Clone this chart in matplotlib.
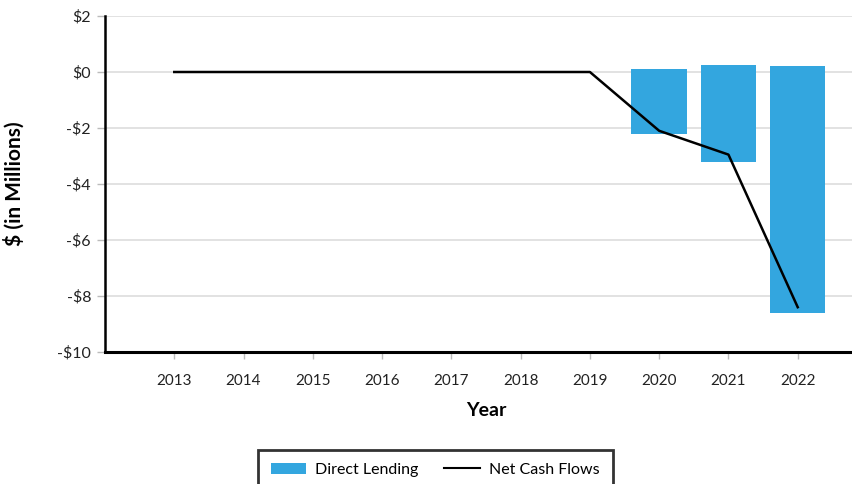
import matplotlib.pyplot as plt
from matplotlib.patches import Patch
from matplotlib.lines import Line2D

plt.rcParams['font.family'] = ['Lato', 'DejaVu Sans']

years = [2013, 2014, 2015, 2016, 2017, 2018, 2019, 2020, 2021, 2022]
bar_years = [2020, 2021, 2022]
distributions = [0.1, 0.25, 0.2]
contributions = [-2.2, -3.2, -8.6]
net_cash_flows = [0, 0, 0, 0, 0, 0, 0, -2.1, -2.95, -8.4]
y_ticks = [2, 0, -2, -4, -6, -8, -10]
y_labels = ['$2', '$0', '-$2', '-$4', '-$6', '-$8', '-$10']

blue = '#33a6df'

fig = plt.figure(figsize=(8.53, 4.84), dpi=100)
ax = fig.add_axes([105 / 853, 1 - 352 / 484, (867 - 105) / 853, (352 - 16) / 484])

ax.bar(bar_years, distributions, width=0.8, color=blue, zorder=2)
ax.bar(bar_years, contributions, width=0.8, color=blue, zorder=2)
ax.plot(years, net_cash_flows, color='black', lw=1.8, zorder=3)

ax.set_xlim(2012, 2023)
ax.set_ylim(-10, 2)
ax.set_xticks(years)
ax.set_xticklabels([str(y) for y in years], fontsize=11, color='#222222')
ax.set_yticks(y_ticks)
ax.set_yticklabels(y_labels, fontsize=11.5, color='#222222')
ax.grid(axis='y', color='#dddddd', lw=1.2, zorder=0)
ax.set_axisbelow(True)
ax.tick_params(axis='y', length=6, color='#bbbbbb', width=1, pad=4)
ax.tick_params(axis='x', length=5, color='#bbbbbb', width=1, pad=11)

for s in ['top', 'right']:
    ax.spines[s].set_visible(False)
ax.spines['left'].set_linewidth(1.8)
ax.spines['bottom'].set_linewidth(2.2)
ax.spines['left'].set_color('black')
ax.spines['bottom'].set_color('black')

ax.set_ylabel('$ (in Millions)', fontsize=15, fontweight='bold')
ax.yaxis.set_label_coords(-0.105, 0.5)
ax.set_xlabel('Year', fontsize=14, fontweight='bold', labelpad=10)

handles = [Patch(facecolor=blue, label='Direct Lending'),
           Line2D([0], [0], color='black', lw=1.5, label='Net Cash Flows')]
leg = fig.legend(handles=handles, loc='upper left', bbox_to_anchor=(258 / 853, 1 - 450 / 484),
                 borderaxespad=0, ncol=2, frameon=True, fancybox=False, edgecolor='black',
                 fontsize=11.5, handlelength=2.2, handletextpad=0.6,
                 columnspacing=1.6, borderpad=0.8)
leg.get_frame().set_linewidth(2)

fig.savefig('out.png', dpi=100)
